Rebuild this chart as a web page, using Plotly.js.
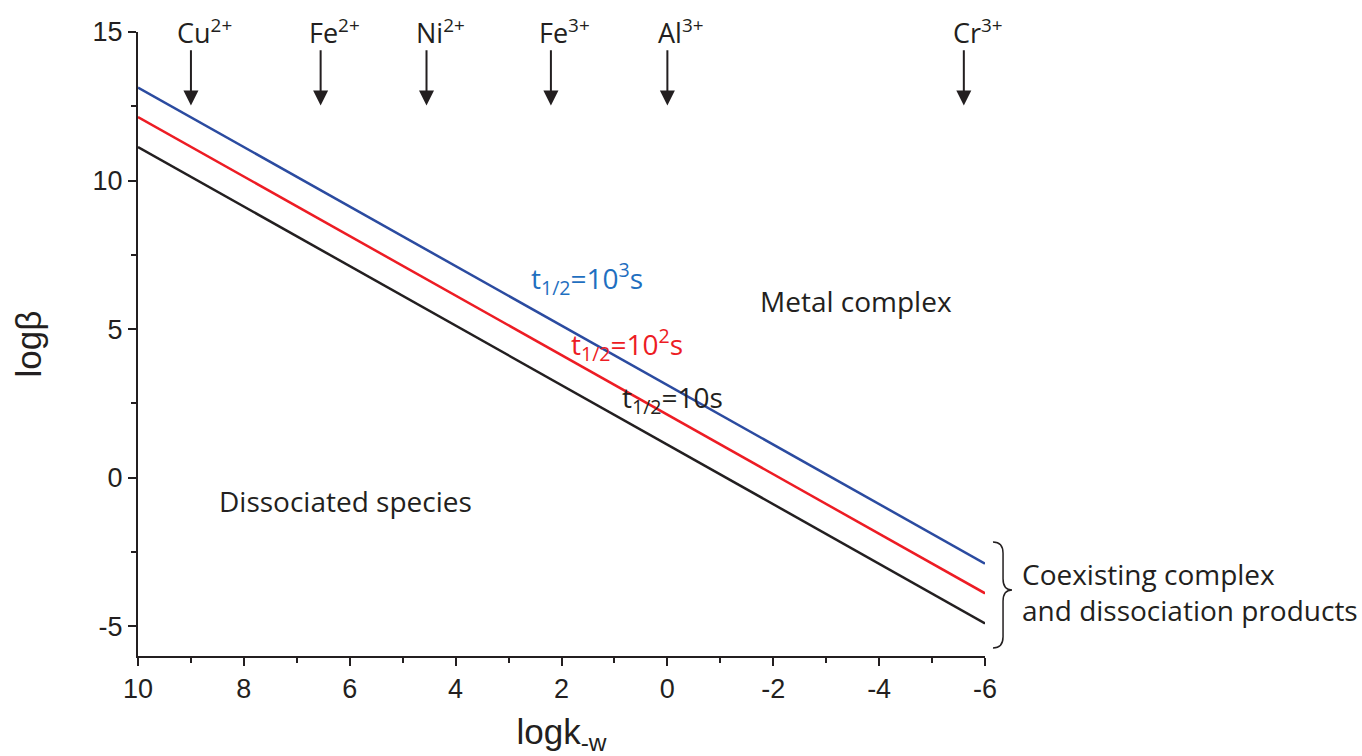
<!DOCTYPE html>
<html>
<head>
<meta charset="utf-8">
<script src="https://cdn.plot.ly/plotly-3.0.1.min.js"></script>
<style>html,body{margin:0;padding:0;background:#fff;}#chart{width:1362px;height:756px;}</style>
</head>
<body>
<div id="chart"></div>
<script>
// ---- data ----
const lineX = [10, -6];
const blueY = [13.13, -2.89];   // t1/2 = 10^3 s
const redY = [12.14, -3.89];    // t1/2 = 10^2 s
const blackY = [11.13, -4.90];  // t1/2 = 10 s
const lineNames = ["t<sub>1/2</sub>=10<sup>3</sup>s", "t<sub>1/2</sub>=10<sup>2</sup>s", "t<sub>1/2</sub>=10s"];
const labelX = [1.52, 0.76, -0.10];
const labelY = [6.70, 4.50, 2.66];

const ions = ["Cu<sup>2+</sup>", "Fe<sup>2+</sup>", "Ni<sup>2+</sup>", "Fe<sup>3+</sup>", "Al<sup>3+</sup>", "Cr<sup>3+</sup>"];
const ionLogK = [9.0, 6.55, 4.55, 2.2, 0.0, -5.6];
const arrowTop = 14.44;
const arrowTip = 12.53;
const ionLabelY = 15;

const regionText = ["Metal complex", "Dissociated species"];
const regionX = [-3.56, 6.08];
const regionY = [5.96, -0.77];
const coexistText = "Coexisting complex<br>and dissociation products";

const xTickVals = [10, 8, 6, 4, 2, 0, -2, -4, -6];
const xTickText = ["10", "8", "6", "4", "2", "0", "-2", "-4", "-6"];
const yTickVals = [-5, 0, 5, 10, 15];
const yTickText = ["-5", "0", "5", "10", "15"];

// ---- styles ----
const INK = '#231f20';
const BLUE = '#2b4ba0', BLUE_TXT = '#1f6fc0', RED = '#ed1c24';
const LBL_FONT = '"Open Sans", "Noto Sans", sans-serif';
const AX_FONT = 'Arial, "Liberation Sans", sans-serif';

const traces = [
  {x: lineX, y: blueY, mode: 'lines', line: {color: BLUE, width: 2.5}, hoverinfo: 'skip'},
  {x: lineX, y: redY, mode: 'lines', line: {color: RED, width: 2.5}, hoverinfo: 'skip'},
  {x: lineX, y: blackY, mode: 'lines', line: {color: INK, width: 2.5}, hoverinfo: 'skip'}
];

const labelColors = [BLUE_TXT, RED, INK];
const annotations = [];
lineNames.forEach((t, i) => annotations.push({
  x: labelX[i], y: labelY[i], xref: 'x', yref: 'y', text: t, showarrow: false,
  font: {family: LBL_FONT, size: 28, color: labelColors[i]}
}));
ions.forEach((t, i) => {
  annotations.push({
    x: ionLogK[i], y: arrowTip, xref: 'x', yref: 'y', ax: ionLogK[i], ay: arrowTop,
    axref: 'x', ayref: 'y', text: '', showarrow: true, arrowhead: 2, arrowsize: 1.5,
    arrowwidth: 2, arrowcolor: INK
  });
  annotations.push({
    x: ionLogK[i], y: ionLabelY, xref: 'x', yref: 'y', text: t, showarrow: false,
    xshift: 14, yshift: 1, font: {family: LBL_FONT, size: 27, color: INK}
  });
});
regionText.forEach((t, i) => annotations.push({
  x: regionX[i], y: regionY[i], xref: 'x', yref: 'y', text: t, showarrow: false,
  font: {family: LBL_FONT, size: 28, color: INK}
}));
annotations.push({
  x: 1.041, y: -3.84, xref: 'paper', yref: 'y', text: coexistText, showarrow: false,
  xanchor: 'left', align: 'left', font: {family: LBL_FONT, size: 28, color: INK}
});

// curly brace (paper coordinates)
const bx0 = 1.0094, bx1 = 1.0213, bx2 = 1.0319;
const byT = 0.1827, byM = 0.1058, byB = 0.0128, d = 0.018;
const bracePath = `M${bx0},${byT} Q${bx1},${byT} ${bx1},${byT - d} L${bx1},${byM + d} Q${bx1},${byM} ${bx2},${byM} Q${bx1},${byM} ${bx1},${byM - d} L${bx1},${byB + d} Q${bx1},${byB} ${bx0},${byB}`;

const layout = {
  width: 1362, height: 756,
  margin: {l: 138, r: 377, t: 32, b: 100},
  paper_bgcolor: '#fff', plot_bgcolor: '#fff',
  showlegend: false,
  xaxis: {
    range: [10, -6], tickvals: xTickVals, ticktext: xTickText, ticks: 'outside', ticklen: 8, tickwidth: 2, tickcolor: INK,
    showline: true, linewidth: 2, linecolor: INK, showgrid: false, zeroline: false,
    minor: {dtick: 1, tick0: 0, ticks: 'outside', ticklen: 5, tickwidth: 2, tickcolor: INK, showgrid: false},
    tickfont: {family: AX_FONT, size: 27, color: INK},
    title: {text: 'logk<sub>-w</sub>', font: {family: AX_FONT, size: 35, color: INK}, standoff: 18}
  },
  yaxis: {
    range: [-6, 15], tickvals: yTickVals, ticktext: yTickText, ticks: 'outside', ticklen: 8, tickwidth: 2, tickcolor: INK,
    showline: true, linewidth: 2, linecolor: INK, showgrid: false, zeroline: false,
    minor: {dtick: 2.5, tick0: 0, ticks: 'outside', ticklen: 5, tickwidth: 2, tickcolor: INK, showgrid: false},
    tickfont: {family: AX_FONT, size: 27, color: INK},
    title: {text: 'logβ', font: {family: AX_FONT, size: 35, color: INK}, standoff: 40}
  },
  shapes: [{type: 'path', xref: 'paper', yref: 'paper', path: bracePath,
            line: {color: INK, width: 1.5}}],
  annotations: annotations
};

Plotly.newPlot('chart', traces, layout, {displayModeBar: false, staticPlot: true});
</script>
</body>
</html>
